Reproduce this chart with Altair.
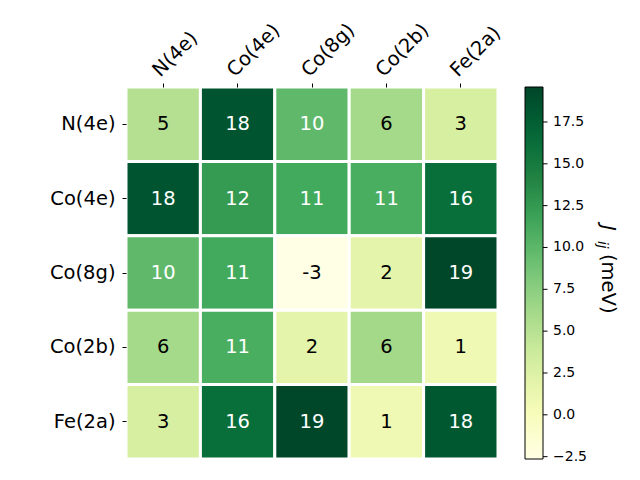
import altair as alt
import pandas as pd

labels = ["N(4e)", "Co(4e)", "Co(8g)", "Co(2b)", "Fe(2a)"]
row_n4e = [5.2, 18.3, 9.8, 6.1, 3.1]
row_co4e = [18.3, 12.4, 11.3, 10.9, 16.2]
row_co8g = [9.8, 11.3, -2.64, 1.9, 19.45]
row_co2b = [6.1, 10.9, 1.9, 6.2, 0.9]
row_fe2a = [3.1, 16.2, 19.45, 0.9, 18.1]
rows = [row_n4e, row_co4e, row_co8g, row_co2b, row_fe2a]
cbar_ticks = [-2.5, 0.0, 2.5, 5.0, 7.5, 10.0, 12.5, 15.0, 17.5]
vmin, vmax = -2.64, 19.59
ylgn = ["#ffffe5", "#f7fcb9", "#d9f0a3", "#addd8e", "#78c679",
        "#41ab5d", "#238443", "#006837", "#004529"]
stops = [vmin + k * (vmax - vmin) / (len(ylgn) - 1) for k in range(len(ylgn))]

recs = []
for i, r in enumerate(rows):
    for j, v in enumerate(r):
        recs.append({"row": labels[i], "col": labels[j], "J": v,
                     "txt": f"{v:.0f}", "dark": v > (vmin + vmax) / 2})
df = pd.DataFrame(recs)

FONT = "DejaVu Sans"
FS = 19.5
base = alt.Chart(df)
xenc = alt.X("col:N", sort=labels, title=None,
             scale=alt.Scale(paddingInner=0, paddingOuter=0),
             axis=alt.Axis(orient="top", labelAngle=-45, labelAlign="left",
                           labelBaseline="bottom", labelFontSize=FS,
                           labelFont=FONT, labelColor="black", domain=False,
                           tickSize=4, tickColor="black", labelPadding=3))
yenc = alt.Y("row:N", sort=labels, title=None,
             scale=alt.Scale(paddingInner=0, paddingOuter=0),
             axis=alt.Axis(labelFontSize=FS, labelFont=FONT, labelColor="black",
                           domain=False, tickSize=4, tickColor="black",
                           labelPadding=7))

rects = base.mark_rect(stroke="white", strokeWidth=3).encode(
    x=xenc, y=yenc,
    color=alt.Color("J:Q",
                    scale=alt.Scale(domain=stops, range=ylgn),
                    legend=alt.Legend(
                        orient="none", legendX=399, legendY=0,
                        direction="vertical", gradientLength=372,
                        gradientThickness=18, gradientStrokeColor="black",
                        gradientStrokeWidth=1, values=cbar_ticks, format=".1f",
                        labelFont=FONT, labelFontSize=14, labelColor="black",
                        labelOffset=10, title=None)),
)
texts = base.mark_text(font=FONT, fontSize=FS).encode(
    x=alt.X("col:N", sort=labels),
    y=alt.Y("row:N", sort=labels),
    text="txt:N",
    color=alt.condition("datum.dark", alt.value("white"), alt.value("black")),
)

# colorbar tick marks on an independent quantitative scale
tick_df = pd.DataFrame({"v": cbar_ticks})
cticks = alt.Chart(tick_df).mark_rule(color="black", strokeWidth=1).encode(
    y=alt.Y("v:Q", scale=alt.Scale(domain=[vmin, vmax], nice=False, zero=False),
            axis=None),
    x=alt.value(417), x2=alt.value(421.5),
)

t1 = alt.Chart(pd.DataFrame({"t": ["J"]})).mark_text(
    font=FONT, fontSize=FS, fontStyle="italic", angle=90, align="left",
    baseline="alphabetic", color="black").encode(
    text="t:N", x=alt.value(476), y=alt.value(138))
t2 = alt.Chart(pd.DataFrame({"t": ["ij"]})).mark_text(
    font=FONT, fontSize=13.5, fontStyle="italic", angle=90, align="left",
    baseline="alphabetic", color="black").encode(
    text="t:N", x=alt.value(472), y=alt.value(154))
t3 = alt.Chart(pd.DataFrame({"t": ["(meV)"]})).mark_text(
    font=FONT, fontSize=FS, angle=90, align="left",
    baseline="alphabetic", color="black").encode(
    text="t:N", x=alt.value(476), y=alt.value(167))

heat = alt.layer(rects, texts)
chart = alt.layer(heat, cticks, t1, t2, t3).resolve_scale(
    y="independent", x="independent"
).properties(
    width=372, height=372,
    autosize=alt.AutoSizeParams(type="none"),
    padding={"left": 126, "top": 87, "right": 142, "bottom": 21},
).configure_view(stroke=None).configure(background="white")

chart.save("out.html", embed_options={"renderer": "svg", "actions": False})
